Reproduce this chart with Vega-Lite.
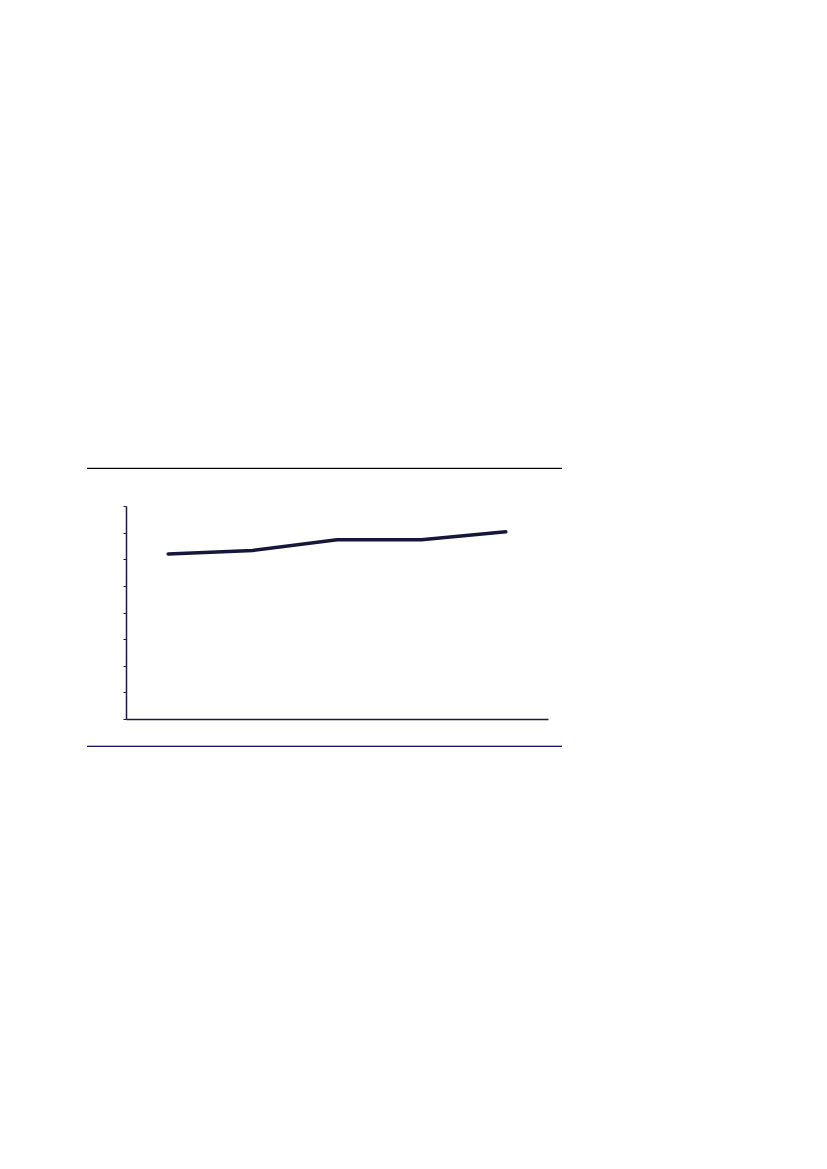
{
  "$schema": "https://vega.github.io/schema/vega-lite/v6.json",
  "autosize": "none",
  "padding": {"left": 126, "top": 506, "right": 279, "bottom": 450},
  "width": 422,
  "height": 213,
  "background": "white",
  "config": {
    "view": {"stroke": null},
    "axis": {"grid": false, "domainColor": "#1c1a40", "tickColor": "#1c1a40"}
  },
  "data": {
    "values": [
      {"period": "1", "value": 6.2},
      {"period": "2", "value": 6.33},
      {"period": "3", "value": 6.73},
      {"period": "4", "value": 6.73},
      {"period": "5", "value": 7.03}
    ]
  },
  "layer": [
    {
      "mark": {"type": "line", "color": "#16163a", "strokeWidth": 3.5, "strokeCap": "round"},
      "encoding": {
        "x": {
          "field": "period",
          "type": "ordinal",
          "scale": {"type": "point", "padding": 0.5},
          "axis": {"title": null, "labels": false, "ticks": false, "domainWidth": 1.5}
        },
        "y": {
          "field": "value",
          "type": "quantitative",
          "scale": {"domain": [0, 8], "nice": false},
          "axis": {"title": null, "labels": false, "values": [0, 1, 2, 3, 4, 5, 6, 7, 8], "tickSize": 3, "domainWidth": 1.5}
        }
      }
    },
    {
      "mark": {"type": "rule", "color": "#000000", "strokeWidth": 1},
      "encoding": {
        "x": {"datum": -39, "type": "quantitative", "scale": {"domain": [0, 422], "nice": false, "zero": false}, "axis": null},
        "x2": {"datum": 436},
        "y": {
          "datum": 9.41,
          "type": "quantitative",
          "axis": {"title": null, "labels": false, "values": [0, 1, 2, 3, 4, 5, 6, 7, 8], "tickSize": 3, "domainWidth": 1.5}
        }
      }
    },
    {
      "mark": {"type": "rule", "color": "#1c1a60", "strokeWidth": 1},
      "encoding": {
        "x": {"datum": -39, "type": "quantitative", "scale": {"domain": [0, 422], "nice": false, "zero": false}, "axis": null},
        "x2": {"datum": 436},
        "y": {
          "datum": -1.03,
          "type": "quantitative",
          "axis": {"title": null, "labels": false, "values": [0, 1, 2, 3, 4, 5, 6, 7, 8], "tickSize": 3, "domainWidth": 1.5}
        }
      }
    }
  ],
  "resolve": {"scale": {"x": "independent"}}
}
